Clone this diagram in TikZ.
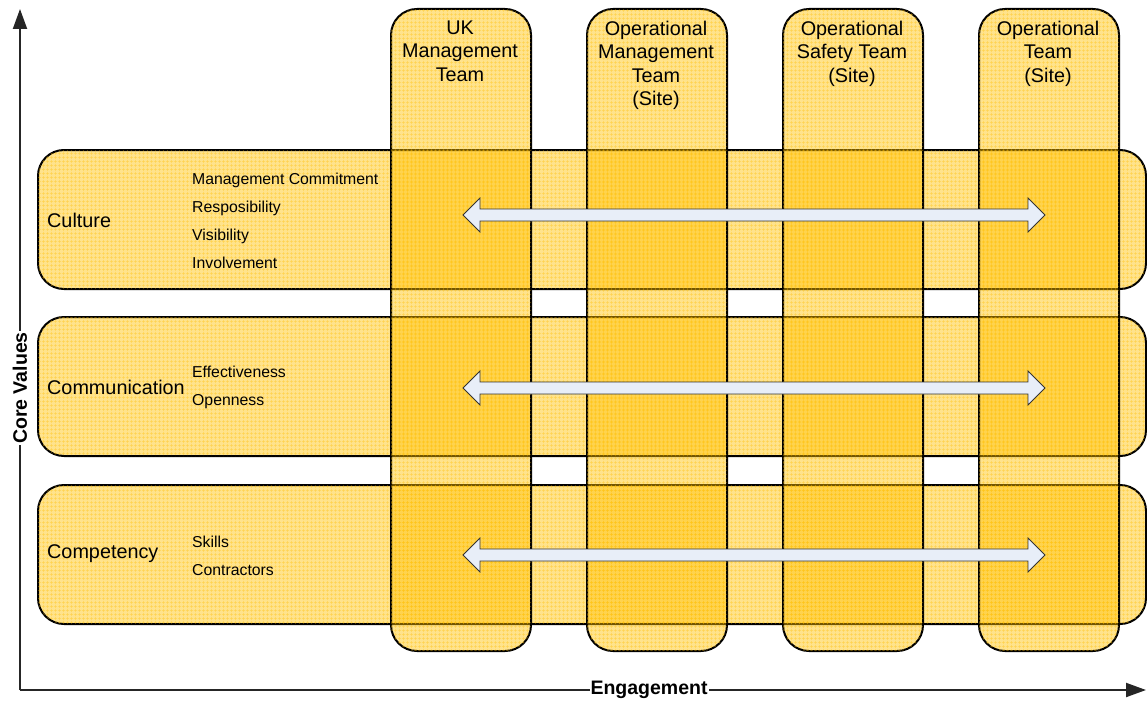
\documentclass[tikz,border=0pt]{standalone}
\usepackage{fontspec}
\setmainfont{Liberation Sans}
\usetikzlibrary{patterns.meta,arrows.meta}
\definecolor{bandfill}{HTML}{FFC000}
\definecolor{gridc}{HTML}{FFBE00}
\definecolor{arrowfill}{HTML}{E8EEF8}
\begin{document}
\begin{tikzpicture}[x=1pt,y=-1pt,
  band/.style={draw=black, line width=2pt, rounded corners=26pt,
    fill=bandfill, fill opacity=0.45, draw opacity=1, inner sep=0pt,
    postaction={pattern={Hatch[angle=0,distance=4pt,line width=0.6pt]}, pattern color=gridc}},
  rowbox/.style={band, minimum width=1108pt, minimum height=139pt, anchor=north west},
  colbox/.style={band, minimum width=140pt, minimum height=642pt, anchor=north west},
  bigtxt/.style={font=\fontsize{19.8}{23.5}\selectfont, inner sep=0pt},
  coltitle/.style={bigtxt, align=center, anchor=north},
  item/.style={font=\fontsize{15.8}{18}\selectfont, inner sep=0pt, anchor=base west},
  axis/.style={line width=2pt, draw=black!85, -{Triangle[length=20pt,width=14pt]}},
  axislabel/.style={font=\bfseries\fontsize{19.5}{23.5}\selectfont, fill=white, inner sep=1pt},
  flow/.style={draw=black!80, line width=0.8pt, fill=arrowfill}
]
\useasboundingbox (0,0) rectangle (1147,701);

% rows
\node[rowbox] (culture) at (37,149) {};
\node[rowbox] (communication) at (37,316) {};
\node[rowbox] (competency) at (37,484) {};

% columns
\node[colbox] (uk) at (390,8) {};
\node[colbox] (opm) at (586,8) {};
\node[colbox] (ops) at (782,8) {};
\node[colbox] (opt) at (978,8) {};

% column titles
\node[coltitle] (ukt) at (460,20.5) {UK\\Management\\Team};
\node[coltitle] (opmt) at (656,20.5) {Operational\\Management\\Team\\(Site)};
\node[coltitle] (opst) at (852,20.5) {Operational\\Safety Team\\(Site)};
\node[coltitle] (optt) at (1048,20.5) {Operational\\Team\\(Site)};

% row labels
\node[bigtxt, anchor=west] (cull) at (47,220) {Culture};
\node[bigtxt, anchor=west] (coml) at (47,387) {Communication};
\node[bigtxt, anchor=west] (cpl) at (47,554) {Competency};

\node[item] (i1) at (192,184) {Management Commitment};
\node[item] (i2) at (192,212) {Resposibility};
\node[item] (i3) at (192,240) {Visibility};
\node[item] (i4) at (192,268) {Involvement};
\node[item] (i5) at (192,377) {Effectiveness};
\node[item] (i6) at (192,405) {Openness};
\node[item] (i7) at (192,547) {Skills};
\node[item] (i8) at (192,575) {Contractors};

% double arrows
\foreach \yc in {215,388,555}{
  \draw[flow] (463,\yc) -- (480,\yc-17) -- (480,\yc-6) -- (1028,\yc-6) -- (1028,\yc-17)
    -- (1045,\yc) -- (1028,\yc+17) -- (1028,\yc+6) -- (480,\yc+6) -- (480,\yc+17) -- cycle;
}

% axes
\coordinate (origin) at (20,690);
\coordinate (ytop) at (20,9);
\coordinate (xend) at (1146,690);
\draw[axis] (origin) -- (ytop);
\draw[axis] (origin) -- (xend);
\node[axislabel] (eng) at (649,690) {Engagement};
\node[axislabel, rotate=90] (core) at (20,388) {Core Values};
\end{tikzpicture}
\end{document}
